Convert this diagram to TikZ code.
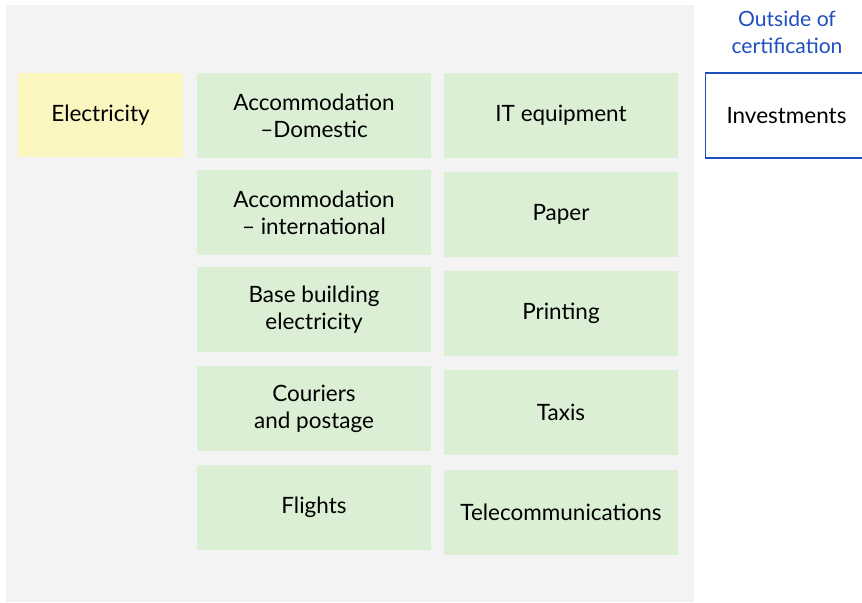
\documentclass[tikz,border=0pt]{standalone}
\usepackage{fontspec}
\setmainfont{Lato}
\definecolor{panelgrey}{HTML}{F2F3F2}
\definecolor{boxgreen}{HTML}{DAEFD4}
\definecolor{boxyellow}{HTML}{FBF5C0}
\definecolor{outblue}{HTML}{1F4FBF}
\tikzset{
  every picture/.append style={x=0.02cm, y=-0.02cm},
  item/.style={fill=boxgreen, minimum width=4.68cm, minimum height=1.7cm,
    align=center, font=\fontsize{12.8}{15.3}\selectfont, inner sep=0pt},
  elec/.style={item, fill=boxyellow, minimum width=3.3cm, minimum height=1.68cm},
  outside/.style={item, fill=white, draw=outblue, line width=0.6pt,
    minimum width=3.24cm},
}
\begin{document}
\begin{tikzpicture}
  \useasboundingbox (0,0) rectangle (862,602);
  \fill[panelgrey] (6,5) rectangle (694,602);

  % inside certification
  \node[elec] (electricity) at(100.5,115){Electricity};
  \node[item] (accdom) at(314,115.5){Accommodation\\–Domestic};
  \node[item] (accint) at(314,212.5){Accommodation\\– international};
  \node[item] (basebld) at(314,309.5){Base building\\electricity};
  \node[item] (couriers) at(314,408.5){Couriers\\and postage};
  \node[item] (flights) at(314,507.5){Flights};
  \node[item] (itequip) at(561,115.5){IT equipment};
  \node[item] (paper) at(561,214.5){Paper};
  \node[item] (printing) at(561,313.5){Printing};
  \node[item] (taxis) at(561,412.5){Taxis};
  \node[item] (telecom) at(561,512.5){Telecommunications};

  % outside certification
  \node[align=center, text=outblue, font=\fontsize{12}{15.3}\selectfont] (outhead) at(787,32){Outside of\\certification};
  \node[outside] (invest) at(786.5,115.5){Investments};
\end{tikzpicture}
\end{document}
